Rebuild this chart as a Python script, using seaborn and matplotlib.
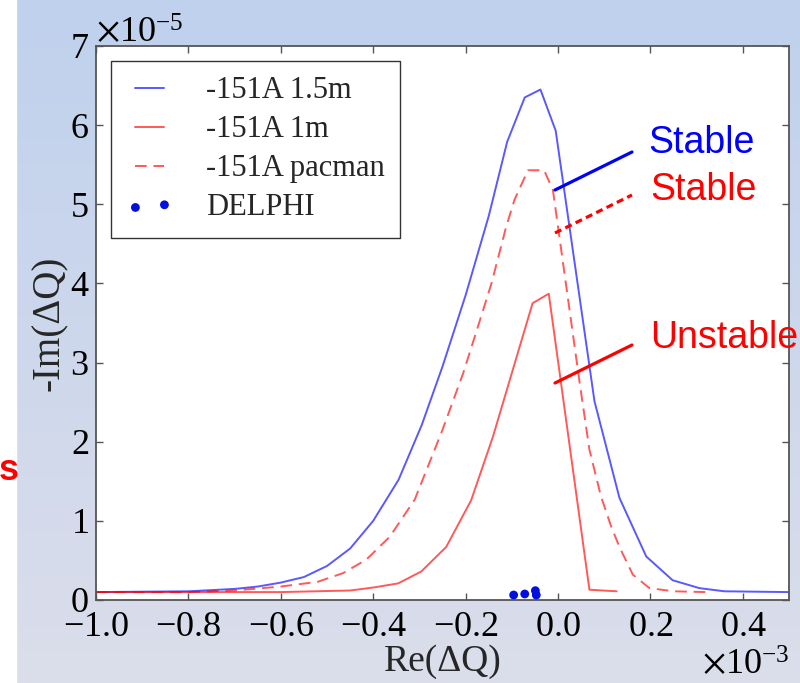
import numpy as np
import pandas as pd
import matplotlib
matplotlib.use('Agg')
import matplotlib.pyplot as plt
import seaborn as sns
from matplotlib.lines import Line2D
from matplotlib.patches import Rectangle

# ---- data (Re in units of 1e-3, -Im in units of 1e-5) ----
re_15m = [-1.0, -0.8, -0.7, -0.65, -0.6, -0.55, -0.5, -0.45, -0.4, -0.345, -0.295,
          -0.25, -0.2, -0.15, -0.11, -0.072, -0.038, -0.005, 0.079, 0.133, 0.191,
          0.248, 0.306, 0.36, 0.5]
im_15m = [0.1, 0.11, 0.14, 0.17, 0.22, 0.29, 0.43, 0.65, 1.0, 1.52, 2.21,
          2.95, 3.85, 4.85, 5.79, 6.35, 6.45, 5.93, 2.51, 1.29, 0.55,
          0.25, 0.15, 0.11, 0.1]

re_1m = [-1.0, -0.6, -0.45, -0.397, -0.346, -0.296, -0.242, -0.188, -0.141,
         -0.055, -0.020, 0.068, 0.127]
im_1m = [0.1, 0.1, 0.12, 0.16, 0.21, 0.36, 0.67, 1.26, 2.06,
         3.75, 3.87, 0.13, 0.11]

re_pac = [-1.0, -0.8, -0.7, -0.6, -0.52, -0.465, -0.415, -0.364, -0.31, -0.25,
          -0.205, -0.173, -0.144, -0.112, -0.094, -0.065, -0.03, -0.011, 0.046,
          0.068, 0.093, 0.115, 0.133, 0.162, 0.198, 0.25, 0.32]
im_pac = [0.1, 0.1, 0.12, 0.17, 0.23, 0.34, 0.51, 0.80, 1.27, 2.15,
          2.87, 3.46, 4.0, 4.72, 5.06, 5.43, 5.43, 5.18, 2.78,
          1.9, 1.31, 0.93, 0.67, 0.32, 0.15, 0.11, 0.1]

re_delphi = [-0.096, -0.072, -0.049, -0.047]
im_delphi = [0.063, 0.076, 0.118, 0.063]

labels = ['-151A 1.5m', '-151A 1m', '-151A pacman', 'DELPHI']
xticks = [-1.0, -0.8, -0.6, -0.4, -0.2, 0.0, 0.2, 0.4]
yticks = [0, 1, 2, 3, 4, 5, 6, 7]
xscale, yscale = 1e-3, 1e-5

# ---- style ----
sns.set_style('ticks')
plt.rcParams['font.family'] = ['Liberation Serif', 'DejaVu Serif']
plt.rcParams['mathtext.fontset'] = 'stix'
plt.rcParams['axes.formatter.use_mathtext'] = True
plt.rcParams['axes.unicode_minus'] = True

fig = plt.figure(figsize=(8, 6.83), dpi=100)

# slide-like background
bg = fig.add_axes([0, 0, 1, 1], zorder=-10)
g = np.linspace(0, 1, 256)[:, None, None]
top = np.array([0.75, 0.82, 0.93])[None, None, :]
bot = np.array([0.86, 0.87, 0.92])[None, None, :]
bg.imshow(top * (1 - g) + bot * g, aspect='auto', extent=[0, 1, 0, 1])
bg.add_patch(Rectangle((0, 0), 16 / 800, 1, color='white'))
bg.set_xlim(0, 1); bg.set_ylim(0, 1)
bg.set_axis_off()

ax = fig.add_axes([96 / 800, 1 - 600 / 683, 693 / 800, 554 / 683])
ax.set_facecolor('white')

sns.lineplot(x=np.array(re_15m) * xscale, y=np.array(im_15m) * yscale, sort=False,
             estimator=None, color='blue', alpha=0.65, lw=1.4, label=labels[0], ax=ax)
sns.lineplot(x=np.array(re_1m) * xscale, y=np.array(im_1m) * yscale, sort=False,
             estimator=None, color='red', alpha=0.65, lw=1.4, label=labels[1], ax=ax)
sns.lineplot(x=np.array(re_pac) * xscale, y=np.array(im_pac) * yscale, sort=False,
             estimator=None, color='red', alpha=0.65, lw=1.4, linestyle=(0, (6, 3.5)),
             label=labels[2], ax=ax)
sns.scatterplot(x=np.array(re_delphi) * xscale, y=np.array(im_delphi) * yscale,
                color='#0010e0', s=40, edgecolor='none', label=labels[3], ax=ax,
                zorder=5, clip_on=False)

ax.set_xlim(-1.0 * xscale, 0.5 * xscale)
ax.set_ylim(0, 7 * yscale)
ax.set_xticks(np.array(xticks) * xscale)
ax.set_yticks(np.array(yticks) * yscale)
ax.ticklabel_format(axis='both', style='sci', scilimits=(0, 0), useMathText=True)

ax.tick_params(direction='in', top=True, right=True, length=5, width=1,
               color='#555555', labelsize=26, labelcolor='black')
ax.tick_params(axis='x', pad=8)
ax.tick_params(axis='y', pad=5)
ax.xaxis.get_offset_text().set_fontsize(26)
ax.yaxis.get_offset_text().set_fontsize(26)
for sp in ax.spines.values():
    sp.set_visible(True)
    sp.set_color('#555555')
    sp.set_linewidth(1.3)

ax.set_xlabel('Re(ΔQ)', fontsize=27, labelpad=0)
ax.set_ylabel('-Im(ΔQ)', fontsize=28, labelpad=1)

leg = ax.legend(loc='upper left', bbox_to_anchor=(0.0216, 0.973), borderaxespad=0,
                fontsize=22, numpoints=2, scatterpoints=2, fancybox=False,
                edgecolor='#333333', framealpha=1, handlelength=1.55,
                handletextpad=1.05, labelspacing=0.33, borderpad=0.5)
leg.get_frame().set_linewidth(1.0)

# annotations
sans = ['Liberation Sans', 'DejaVu Sans']
fig.text(648 / 800, 1 - 143 / 683, 'Stable', color='blue', fontsize=27,
         family=sans, ha='left', va='center')
fig.text(650 / 800, 1 - 190 / 683, 'Stable', color='red', fontsize=27,
         family=sans, ha='left', va='center')
fig.text(650 / 800, 1 - 338 / 683, 'Unstable', color='red', fontsize=27,
         family=sans, ha='left', va='center')
fig.add_artist(Line2D([555 / 800, 632 / 800], [1 - 190 / 683, 1 - 152 / 683],
                      color='blue', lw=2.3, transform=fig.transFigure))
fig.add_artist(Line2D([555 / 800, 632 / 800], [1 - 233 / 683, 1 - 195 / 683],
                      color='red', lw=2.3, linestyle=(0, (2.2, 1.4)),
                      transform=fig.transFigure))
fig.add_artist(Line2D([555 / 800, 632 / 800], [1 - 383 / 683, 1 - 345 / 683],
                      color='red', lw=2.3, transform=fig.transFigure))

fig.text(19 / 800, 1 - 470 / 683, 's', color='red', fontsize=26, fontweight='bold',
         family=sans, ha='right', va='center')

fig.savefig('out.png', dpi=100)
